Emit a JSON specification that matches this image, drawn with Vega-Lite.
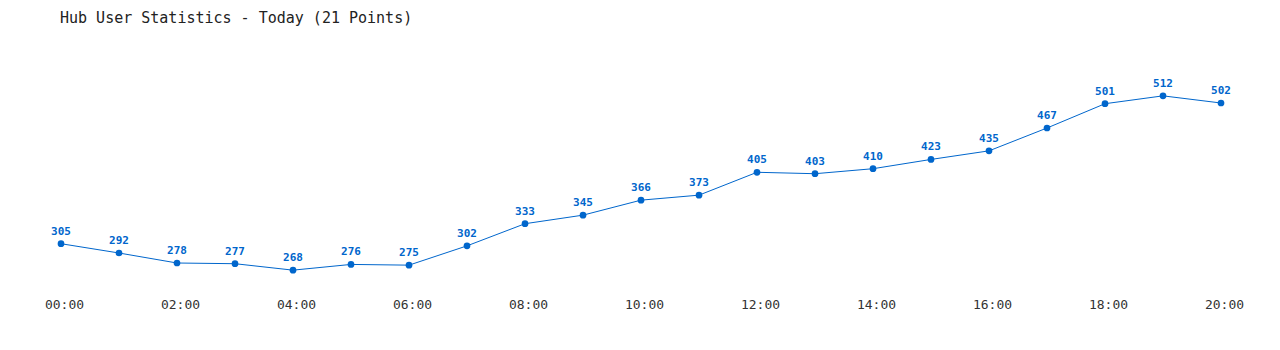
{
  "$schema": "https://vega.github.io/schema/vega-lite/v6.json",
  "autosize": "none",
  "width": 1160,
  "height": 200,
  "padding": {"left": 61, "top": 83, "right": 59, "bottom": 67},
  "background": "white",
  "title": {
    "text": "Hub User Statistics - Today (21 Points)",
    "anchor": "start",
    "frame": "group",
    "dx": -1,
    "font": "DejaVu Sans Mono",
    "fontSize": 15,
    "fontWeight": "normal",
    "color": "#222222",
    "offset": 52
  },
  "config": {"view": {"stroke": null}},
  "data": {
    "values": [
      {"hour": 0, "users": 305},
      {"hour": 1, "users": 292},
      {"hour": 2, "users": 278},
      {"hour": 3, "users": 277},
      {"hour": 4, "users": 268},
      {"hour": 5, "users": 276},
      {"hour": 6, "users": 275},
      {"hour": 7, "users": 302},
      {"hour": 8, "users": 333},
      {"hour": 9, "users": 345},
      {"hour": 10, "users": 366},
      {"hour": 11, "users": 373},
      {"hour": 12, "users": 405},
      {"hour": 13, "users": 403},
      {"hour": 14, "users": 410},
      {"hour": 15, "users": 423},
      {"hour": 16, "users": 435},
      {"hour": 17, "users": 467},
      {"hour": 18, "users": 501},
      {"hour": 19, "users": 512},
      {"hour": 20, "users": 502}
    ]
  },
  "encoding": {
    "x": {
      "field": "hour",
      "type": "quantitative",
      "scale": {"domain": [0, 20], "nice": false, "zero": false},
      "axis": {
        "title": null,
        "values": [0, 2, 4, 6, 8, 10, 12, 14, 16, 18, 20],
        "labelExpr": "(datum.value < 10 ? '0' : '') + datum.value + ':00'",
        "grid": false,
        "ticks": false,
        "domain": false,
        "labelFont": "DejaVu Sans Mono",
        "labelFontSize": 13,
        "labelColor": "#333333",
        "labelPadding": 15,
        "labelOffset": 3,
        "labelFlush": false
      }
    },
    "y": {
      "field": "users",
      "type": "quantitative",
      "scale": {"domain": [250, 530], "nice": false, "zero": false},
      "axis": null
    }
  },
  "layer": [
    {"mark": {"type": "line", "color": "#0066cc", "strokeWidth": 1}},
    {"mark": {"type": "point", "filled": true, "color": "#0066cc", "size": 45, "opacity": 1}},
    {
      "mark": {
        "type": "text",
        "color": "#0066cc",
        "font": "DejaVu Sans Mono",
        "fontSize": 11,
        "fontWeight": "bold",
        "baseline": "bottom",
        "dy": -7
      },
      "encoding": {"text": {"field": "users", "type": "quantitative"}}
    }
  ]
}
